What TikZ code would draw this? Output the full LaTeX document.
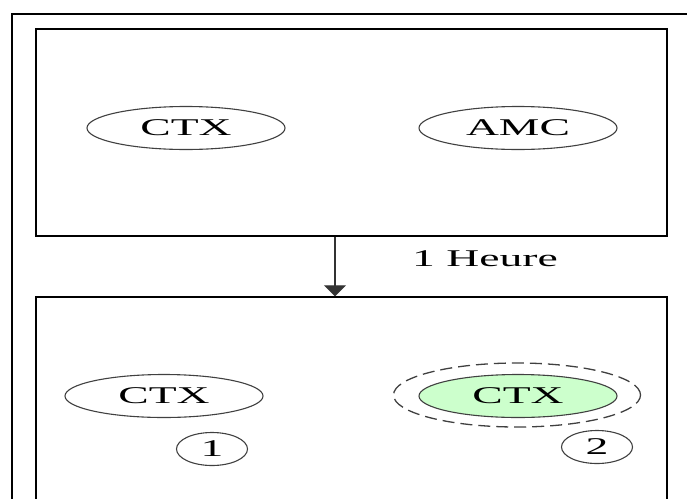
\documentclass[tikz,border=0pt]{standalone}
\usepackage{fontspec}
\setmainfont{Liberation Serif}
\usetikzlibrary{arrows.meta}
\usetikzlibrary{shapes.geometric}
\tikzset{frame/.style = {draw, line width=1.4pt, minimum width=631pt, inner sep=0pt}}
\tikzset{cell/.style = {ellipse, draw=black!75, line width=1.1pt,
                        minimum width=198pt, minimum height=43pt, inner sep=0pt,
                        font=\fontsize{24}{24}\selectfont}}
\tikzset{tag/.style = {ellipse, draw=black!75, line width=1.1pt,
                       minimum width=71pt, minimum height=33pt, inner sep=0pt,
                       font=\fontsize{24}{24}\selectfont}}
\tikzset{flow/.style = {line width=1.3pt, draw=black!80,
                        -{Triangle[width=22pt,length=11pt]}}}
\newcommand{\wide}[1]{\scalebox{1.9}[1]{#1}}
\definecolor{mgreen}{RGB}{204,255,204}

\begin{document}
\begin{tikzpicture}[x=1pt, y=-1pt]
      \useasboundingbox (0,0) rectangle (687,498);
      \clip (0,0) rectangle (687,498);
      \draw [line width=2pt] (700,14) -- (12,14) -- (12,510);
      \node [frame, minimum height=207pt] (before) at (351.5,132.5) {};
      \node [frame, minimum height=213pt] (after) at (351.5,403.5) {};
      \node [cell] (ctxa) at (186,128) {\wide{CTX}};
      \node [cell] (amc) at (518,128) {\wide{AMC}};
      \coordinate (drop) at (335,0);
      \draw [flow] (before.south -| drop) -- (after.north -| drop);
      \node [font=\fontsize{24}{24}\selectfont] (delay) at (485,259) {\wide{1 Heure}};
      \node [cell] (ctxb) at (164,396) {\wide{CTX}};
      \node [ellipse, draw=black!75, line width=1.3pt, dash pattern=on 12pt off 6pt,
             minimum width=247pt, minimum height=64pt] (halo) at (517,395) {};
      \node [cell, fill=mgreen] (ctxc) at (518,396) {\wide{CTX}};
      \node [tag] (one) at (212,449) {\wide{1}};
      \node [tag] (two) at (597,447) {\wide{2}};
    \end{tikzpicture}
\end{document}
